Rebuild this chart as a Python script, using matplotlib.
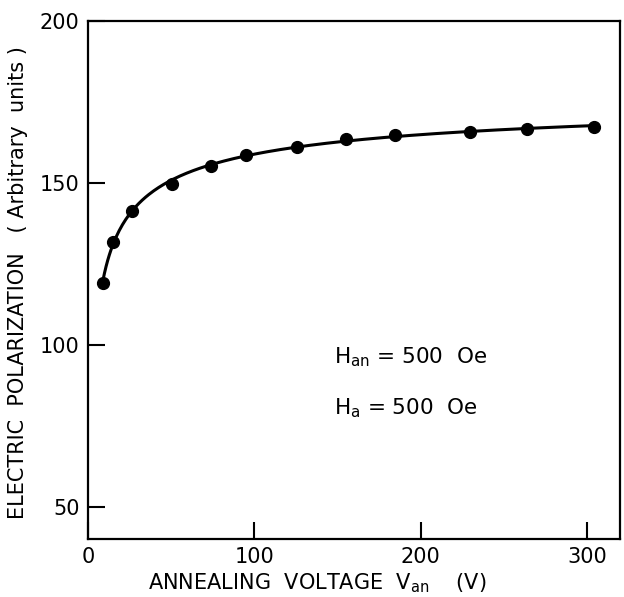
import numpy as np
import matplotlib
matplotlib.use("Agg")
import matplotlib.pyplot as plt

# data
voltage = [8.9, 14.9, 26.2, 50.6, 73.8, 95.2, 125.6, 155.4, 184.5, 229.8, 263.7, 304.2]
polarization = [119.1, 131.8, 141.4, 149.7, 155.2, 158.6, 161.1, 163.6, 164.8, 165.7, 166.7, 167.3]
xticks = [0, 100, 200, 300]
yticks = [50, 100, 150, 200]

plt.rcParams['font.family'] = 'DejaVu Sans'
plt.rcParams['mathtext.default'] = 'regular'

fig = plt.figure(figsize=(6.24, 5.97), dpi=100)
ax = fig.add_axes([0.141, 0.097, 0.853, 0.868])

# smooth curve through the points (fit in log x)
lx = np.log(voltage)
coef = np.polyfit(lx, polarization, 3)
xs = np.linspace(voltage[0], voltage[-1], 300)
ax.plot(xs, np.polyval(coef, np.log(xs)), color='black', lw=2.2)
ax.plot(voltage, polarization, 'o', color='black', ms=8.5)

ax.set_xlim(0, 320)
ax.set_ylim(40, 200)
ax.set_xticks(xticks)
ax.set_yticks(yticks)
ax.tick_params(direction='in', length=12, width=1.5, labelsize=15, pad=6)
for s in ax.spines.values():
    s.set_linewidth(1.6)

ax.set_xlabel('ANNEALING  VOLTAGE  $V_{an}$    (V)', fontsize=15)
ax.xaxis.set_label_coords(0.43, -0.062)
ax.set_ylabel('ELECTRIC  POLARIZATION   ( Arbitrary  units )', fontsize=15)
ax.yaxis.set_label_coords(-0.112, 0.495)

ax.text(148, 94.4, '$H_{an}$ = 500  Oe', fontsize=15.5)
ax.text(148, 78.4, '$H_{a}$ = 500  Oe', fontsize=15.5)

fig.savefig('out.png', dpi=100)
